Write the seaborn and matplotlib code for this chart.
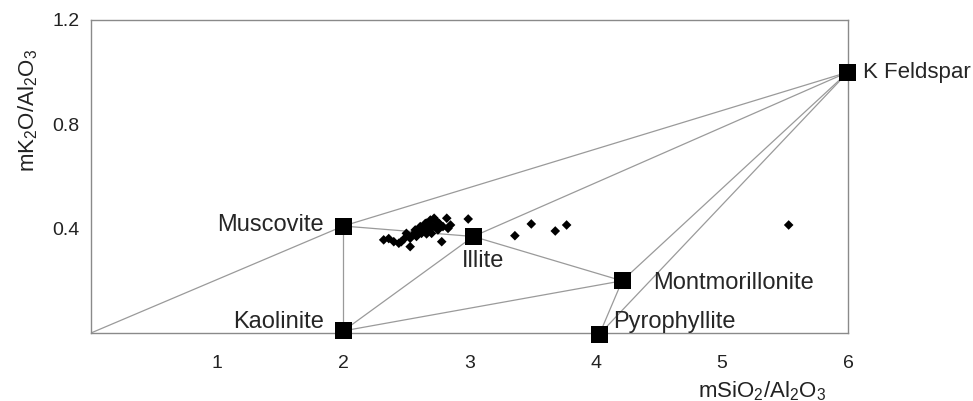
import numpy as np
import pandas as pd
import seaborn as sns
import matplotlib.pyplot as plt

# sample compositions (mSiO2/Al2O3, mK2O/Al2O3)
sample_x = [2.32, 2.36, 2.40, 2.44, 2.46, 2.48, 2.50, 2.53, 2.53, 2.55, 2.57,
            2.58, 2.59, 2.61, 2.62, 2.64, 2.65, 2.66, 2.66, 2.67, 2.69, 2.70,
            2.70, 2.71, 2.72, 2.74, 2.75, 2.76, 2.78, 2.79, 2.82, 2.83, 2.85,
            2.99, 3.36, 3.49, 3.68, 3.77, 5.53]
sample_y = [0.357, 0.362, 0.350, 0.344, 0.350, 0.360, 0.382, 0.331, 0.363,
            0.376, 0.395, 0.370, 0.388, 0.408, 0.382, 0.401, 0.420, 0.421,
            0.380, 0.395, 0.433, 0.382, 0.410, 0.408, 0.440, 0.427, 0.395,
            0.420, 0.350, 0.408, 0.440, 0.401, 0.414, 0.437, 0.373, 0.418,
            0.391, 0.414, 0.414]

# end-member minerals
minerals = ["Muscovite", "Kaolinite", "Illite", "Montmorillonite",
            "Pyrophyllite", "K Feldspar"]
mineral_x = [2.0, 2.0, 3.03, 4.21, 4.03, 6.0]
mineral_y = [0.41, 0.008, 0.37, 0.20, -0.005, 1.0]

# tie lines between end members
ties = [("origin", "Muscovite"), ("Muscovite", "K Feldspar"),
        ("Muscovite", "Kaolinite"), ("Muscovite", "Illite"),
        ("Illite", "Montmorillonite"), ("Kaolinite", "Illite"),
        ("Illite", "K Feldspar"), ("Kaolinite", "Montmorillonite"),
        ("Montmorillonite", "K Feldspar"), ("Pyrophyllite", "K Feldspar"),
        ("Pyrophyllite", "Montmorillonite")]

# label offsets in pixels from marker, alignment, font size
label_off = {"Muscovite": (-20, 1, "right", 17),
             "Kaolinite": (-19, 9, "right", 17),
             "Illite": (-11, -25, "left", 17),
             "Montmorillonite": (31, -2, "left", 17),
             "Pyrophyllite": (14, 12, "left", 17),
             "K Feldspar": (15, 0, "left", 16)}

sns.set_style("white")
plt.rcParams["font.family"] = ["Liberation Sans", "DejaVu Sans"]
plt.rcParams["mathtext.default"] = "regular"

samples = pd.DataFrame({"x": sample_x, "y": sample_y})
mins = pd.DataFrame({"name": minerals, "x": mineral_x, "y": mineral_y})
pos = {n: (x, y) for n, x, y in zip(minerals, mineral_x, mineral_y)}
pos["origin"] = (0.0, 0.0)

fig = plt.figure(figsize=(9.73, 4.01), dpi=100)
ax = fig.add_axes([0.0935, 0.1696, 0.778, 0.7806])

for a, b in ties:
    ax.plot([pos[a][0], pos[b][0]], [pos[a][1], pos[b][1]],
            color="#9a9a9a", lw=0.9, zorder=1)

sns.scatterplot(data=samples, x="x", y="y", marker="D", s=24, color="black",
                edgecolor="none", ax=ax, zorder=3)
sns.scatterplot(data=mins, x="x", y="y", marker="s", s=150, color="black",
                edgecolor="none", ax=ax, zorder=4, clip_on=False)

for n, x, y in zip(minerals, mineral_x, mineral_y):
    dx, dy, ha, fs = label_off[n]
    ax.annotate(n, (x, y), xytext=(dx, dy), textcoords="offset pixels",
                ha=ha, va="center", fontsize=fs, annotation_clip=False)

ax.set_xlim(0, 6)
ax.set_ylim(0, 1.2)
ax.set_xticks([1, 2, 3, 4, 5, 6])
ax.set_yticks([0.4, 0.8, 1.2])
ax.set_yticklabels(["0.4", "0.8", "1.2"])
ax.tick_params(axis="both", length=0, labelsize=14, colors="#222222")
ax.tick_params(axis="x", pad=16)
ax.tick_params(axis="y", pad=8)
for s in ax.spines.values():
    s.set_color("#8a8a8a")
    s.set_linewidth(1.0)

ax.set_xlabel("mSiO$_2$/Al$_2$O$_3$", fontsize=16, color="#222222")
ax.set_ylabel("mK$_2$O/Al$_2$O$_3$", fontsize=16, color="#222222")
ax.xaxis.set_label_coords(0.886, -0.148)
ax.yaxis.set_label_coords(-0.067, 0.712)

fig.savefig("out.png", dpi=100)
